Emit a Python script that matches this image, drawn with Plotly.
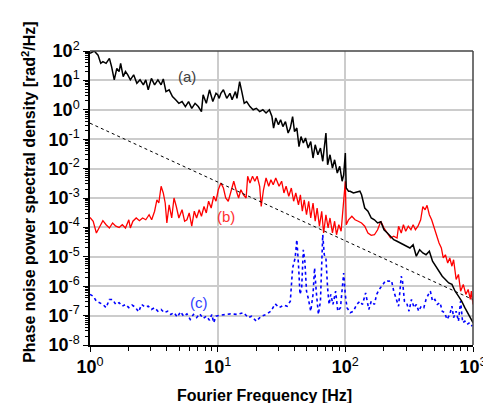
import numpy as np
import plotly.graph_objects as go

# ---- data (log10 of frequency [Hz] and log10 of PSD [rad^2/Hz]) ----
a_logf = [0.000,0.033,0.063,0.084,0.101,0.126,0.152,0.169,0.190,0.210,0.228,0.240,0.260,0.278,0.296,0.316,
          0.342,0.367,0.392,0.418,0.437,0.456,0.481,0.506,0.532,0.557,0.574,0.595,0.620,0.646,0.671,0.696,
          0.721,0.747,0.772,0.797,0.823,0.848,0.873,0.886,0.911,0.936,0.962,0.987,1.000,1.012,1.025,1.045,
          1.071,1.096,1.113,1.139,1.151,1.172,1.189,1.208,1.227,1.253,1.278,1.303,1.329,1.354,1.379,1.405,
          1.425,1.438,1.455,1.476,1.493,1.511,1.531,1.552,1.569,1.587,1.602,1.620,1.637,1.653,1.671,1.688,
          1.709,1.729,1.747,1.764,1.785,1.805,1.823,1.848,1.861,1.880,1.899,1.916,1.937,1.956,1.975,1.987,
          2.000,2.007,2.025,2.038,2.063,2.089,2.114,2.127,2.152,2.177,2.203,2.228,2.253,2.278,2.303,2.329,
          2.354,2.379,2.405,2.430,2.455,2.480,2.506,2.531,2.556,2.582,2.607,2.632,2.658,2.683,2.708,2.734,
          2.759,2.784,2.810,2.835,2.860,2.886,2.911,2.936,2.962,2.987,3.000]
a_logp = [1.92,2.00,1.86,1.58,1.64,1.58,1.75,1.47,1.02,1.41,1.30,1.58,1.13,1.30,1.19,1.02,
          1.19,0.90,1.02,0.85,1.02,0.68,1.07,0.85,1.02,0.85,1.05,0.62,0.68,0.45,0.34,0.22,
          0.28,0.11,0.28,0.05,0.22,0.11,-0.06,0.51,0.22,0.68,0.28,0.56,0.51,0.39,0.56,0.68,
          0.39,0.56,0.34,0.62,0.39,0.96,0.62,0.22,0.28,0.11,0.00,0.05,-0.06,0.00,-0.11,0.00,
          -0.23,-0.62,-0.28,-0.51,-0.34,-0.57,-0.40,-0.79,-0.62,-0.23,-0.74,-0.62,-1.25,-0.91,-1.13,-0.96,
          -1.30,-1.08,-1.64,-1.19,-1.53,-1.30,-1.75,-0.79,-1.87,-1.53,-1.98,-1.70,-2.15,-1.92,-2.43,-2.21,
          -1.47,-2.66,-2.77,-2.77,-2.83,-2.80,-2.77,-2.89,-3.34,-3.45,-3.68,-3.74,-3.85,-3.81,-4.08,-4.19,
          -4.30,-4.42,-4.47,-4.53,-4.59,-4.64,-4.70,-4.59,-4.98,-4.76,-4.87,-4.93,-4.81,-5.15,-5.32,-5.49,
          -5.66,-5.77,-5.89,-5.94,-6.17,-6.34,-6.51,-6.73,-6.96,-7.13,-7.24]

b_logf = [0.000,0.025,0.050,0.076,0.101,0.126,0.152,0.177,0.202,0.228,0.253,0.278,0.304,0.316,0.336,0.362,
          0.387,0.412,0.437,0.463,0.483,0.506,0.524,0.539,0.557,0.574,0.589,0.602,0.620,0.640,0.658,0.676,
          0.696,0.721,0.741,0.759,0.777,0.797,0.817,0.835,0.855,0.873,0.893,0.911,0.929,0.949,0.969,0.987,
          1.005,1.025,1.045,1.063,1.083,1.101,1.126,1.147,1.164,1.182,1.202,1.223,1.235,1.253,1.273,1.291,
          1.309,1.329,1.341,1.359,1.379,1.400,1.417,1.435,1.455,1.481,1.501,1.519,1.536,1.557,1.577,1.595,
          1.612,1.633,1.648,1.663,1.678,1.696,1.713,1.729,1.747,1.764,1.779,1.797,1.815,1.830,1.848,1.865,
          1.880,1.899,1.916,1.931,1.949,1.967,1.983,2.000,2.007,2.025,2.051,2.076,2.101,2.127,2.152,2.177,
          2.203,2.228,2.253,2.278,2.303,2.329,2.354,2.379,2.405,2.417,2.438,2.455,2.473,2.493,2.514,2.531,
          2.549,2.569,2.590,2.607,2.625,2.640,2.658,2.676,2.696,2.716,2.734,2.752,2.767,2.784,2.802,2.818,
          2.835,2.848,2.868,2.886,2.903,2.924,2.944,2.962,2.979,2.987,3.000]
b_logp = [-3.66,-3.79,-4.19,-3.96,-3.77,-3.91,-4.02,-3.85,-3.96,-4.00,-3.91,-4.02,-3.74,-4.02,-3.79,-3.68,
          -3.77,-3.68,-3.74,-3.57,-3.74,-3.45,-3.06,-3.17,-2.60,-2.83,-3.17,-3.85,-3.23,-3.68,-3.00,-3.29,
          -3.68,-3.40,-3.79,-3.74,-3.51,-3.96,-3.45,-3.68,-3.40,-3.62,-3.29,-3.51,-3.11,-3.34,-2.94,-3.11,
          -2.72,-2.49,-2.66,-3.00,-3.11,-2.83,-2.43,-2.77,-3.00,-2.72,-2.89,-3.00,-2.26,-2.49,-2.26,-2.43,
          -2.26,-2.60,-3.29,-2.72,-2.32,-2.60,-2.38,-2.55,-2.32,-2.60,-2.43,-2.83,-2.60,-2.94,-2.66,-3.11,
          -2.83,-3.23,-2.89,-3.45,-3.06,-3.57,-3.11,-3.68,-3.17,-3.79,-3.34,-3.96,-3.45,-4.19,-3.57,-4.02,
          -3.68,-4.19,-3.79,-4.25,-3.91,-4.13,-3.34,-2.43,-3.91,-3.74,-3.62,-3.74,-3.79,-3.85,-3.96,-4.19,
          -4.27,-4.25,-4.08,-3.79,-4.02,-4.19,-4.36,-4.30,-4.36,-3.96,-4.19,-3.91,-4.13,-3.96,-4.08,-3.91,
          -4.08,-3.96,-3.74,-3.29,-3.40,-3.25,-3.57,-3.74,-4.02,-4.30,-4.53,-4.70,-5.04,-4.93,-5.21,-5.04,
          -5.32,-5.10,-5.77,-5.60,-6.17,-5.94,-6.28,-6.11,-6.45,-6.17,-6.62]

c_logf = [0.000,0.025,0.050,0.076,0.101,0.126,0.152,0.177,0.202,0.228,0.253,0.278,0.304,0.329,0.354,0.380,
          0.405,0.430,0.456,0.481,0.506,0.532,0.557,0.582,0.608,0.633,0.658,0.684,0.709,0.734,0.759,0.785,
          0.810,0.835,0.860,0.886,0.911,0.936,0.954,0.969,0.987,1.012,1.050,1.101,1.151,1.202,1.240,1.265,
          1.303,1.341,1.379,1.417,1.451,1.481,1.519,1.544,1.569,1.587,1.607,1.620,1.633,1.645,1.658,1.671,
          1.683,1.696,1.709,1.729,1.747,1.759,1.772,1.789,1.805,1.823,1.835,1.848,1.861,1.873,1.886,1.903,
          1.924,1.941,1.962,1.975,1.987,2.000,2.013,2.038,2.063,2.089,2.114,2.134,2.159,2.184,2.203,2.228,
          2.245,2.266,2.291,2.316,2.341,2.362,2.379,2.397,2.417,2.438,2.448,2.463,2.480,2.499,2.518,2.539,
          2.556,2.575,2.594,2.615,2.632,2.651,2.666,2.683,2.701,2.721,2.742,2.759,2.777,2.797,2.818,2.835,
          2.848,2.868,2.886,2.903,2.919,2.936,2.954,2.974,2.994]
c_logp = [-6.28,-6.34,-6.51,-6.56,-6.62,-6.73,-6.45,-6.45,-6.62,-6.56,-6.68,-6.62,-6.73,-6.64,-6.71,-6.87,
          -6.62,-6.71,-6.68,-6.79,-6.73,-6.85,-6.79,-6.90,-6.85,-6.96,-6.90,-7.05,-6.87,-7.02,-6.94,-7.13,
          -6.96,-7.07,-6.94,-7.10,-7.02,-7.16,-6.96,-7.24,-7.02,-6.99,-6.96,-6.94,-6.96,-6.90,-7.07,-7.02,
          -7.19,-7.02,-6.96,-6.85,-6.60,-6.73,-6.64,-6.68,-6.51,-5.38,-5.04,-4.42,-5.26,-6.28,-6.06,-4.76,
          -5.15,-6.17,-6.40,-6.85,-6.28,-5.38,-6.17,-6.96,-6.51,-4.25,-4.93,-5.04,-6.06,-6.62,-6.28,-6.62,
          -6.17,-6.85,-6.73,-6.20,-5.55,-6.30,-6.73,-6.90,-6.85,-6.62,-6.51,-6.62,-6.23,-6.79,-6.51,-6.62,
          -6.28,-6.11,-5.94,-5.81,-5.83,-5.81,-6.17,-6.40,-6.68,-5.66,-5.83,-6.51,-6.56,-6.85,-6.45,-6.73,
          -6.62,-6.85,-6.68,-6.73,-6.45,-6.28,-6.17,-6.51,-6.45,-6.62,-6.56,-6.85,-6.90,-7.13,-6.96,-6.68,
          -7.07,-6.85,-7.19,-6.51,-7.24,-7.19,-7.30,-7.24,-7.36]

ref_f = [1.0, 1000.0]
ref_psd = [0.35, 3.5e-7]

labels = ["(a)", "(b)", "(c)"]
label_f = [5.7, 11.6, 7.2]
label_psd = [13.5, 2.4e-4, 2.7e-7]
label_colors = ["#404040", "#ff3030", "#3040ff"]

decades = list(range(-8, 3))
x_decades = [0, 1, 2, 3]
minor_mult = [2, 3, 4, 5, 6, 7, 8, 9]

FONT = "Arial, Liberation Sans, sans-serif"

def tl(e):
    return "<b>10</b><sup>%d</sup>" % e

x_minor = [m * 10.0 ** e for e in x_decades[:-1] for m in minor_mult]
y_minor = [m * 10.0 ** e for e in decades[:-1] for m in minor_mult]

fig = go.Figure()
fig.add_trace(go.Scatter(x=10 ** np.array(c_logf), y=10 ** np.array(c_logp), mode="lines",
                         line=dict(color="#0000ff", width=1.6, dash="dot"), showlegend=False))
fig.add_trace(go.Scatter(x=10 ** np.array(b_logf), y=10 ** np.array(b_logp), mode="lines",
                         line=dict(color="#ff0000", width=1.3), showlegend=False))
fig.add_trace(go.Scatter(x=10 ** np.array(a_logf), y=10 ** np.array(a_logp), mode="lines",
                         line=dict(color="#000000", width=1.5), showlegend=False))
fig.add_trace(go.Scatter(x=ref_f, y=ref_psd, mode="lines",
                         line=dict(color="#000000", width=1, dash="3px,3px"), showlegend=False))

for t, xf, yp, c in zip(labels, label_f, label_psd, label_colors):
    fig.add_annotation(x=np.log10(xf), y=np.log10(yp), text=t, showarrow=False,
                       font=dict(family=FONT, size=15, color=c))

fig.add_annotation(xref="paper", yref="paper", x=-0.16, y=0.52,
                   text="<b>Phase noise power spectral density [rad<sup>2</sup>/Hz]</b>",
                   textangle=-90, showarrow=False, font=dict(family=FONT, size=16, color="black"),
                   xanchor="center", yanchor="middle")
fig.add_annotation(xref="paper", yref="paper", x=0.456, y=-0.173, text="<b>Fourier Frequency [Hz]</b>",
                   showarrow=False, font=dict(family=FONT, size=16, color="black"),
                   xanchor="center", yanchor="middle")

fig.add_shape(type="line", xref="paper", yref="paper", x0=0, x1=1, y0=1, y1=1, line=dict(color="#444444", width=1.5))
fig.add_shape(type="line", xref="paper", yref="paper", x0=1, x1=1, y0=0, y1=1, line=dict(color="#444444", width=1.5))

fig.update_xaxes(type="log", range=[0, 3], tickmode="array", tickvals=[10 ** e for e in x_decades],
                 ticktext=[tl(e) for e in x_decades],
                 showgrid=True, gridcolor="#cccccc", gridwidth=1.5, zeroline=False,
                 showline=True, linecolor="black", linewidth=1.5, ticks="outside", ticklen=5, tickcolor="black",
                 tickfont=dict(family=FONT, size=18, color="black"),
                 minor=dict(tickmode="array", tickvals=x_minor, ticks="outside", ticklen=4,
                            tickcolor="black", showgrid=False))
fig.update_yaxes(type="log", range=[-8, 2], tickmode="array", tickvals=[10.0 ** e for e in decades],
                 ticktext=[tl(e) for e in decades],
                 showgrid=True, gridcolor="#cccccc", gridwidth=1.5, zeroline=False,
                 showline=True, linecolor="black", linewidth=1.5, ticks="outside", ticklen=5, tickcolor="black",
                 tickfont=dict(family=FONT, size=18, color="black"),
                 minor=dict(tickmode="array", tickvals=y_minor, ticks="outside", ticklen=3,
                            tickcolor="black", showgrid=False))

fig.update_layout(width=491, height=403, margin=dict(l=82, r=14, t=43, b=66),
                  paper_bgcolor="white", plot_bgcolor="white")

fig.write_html("out.html")
